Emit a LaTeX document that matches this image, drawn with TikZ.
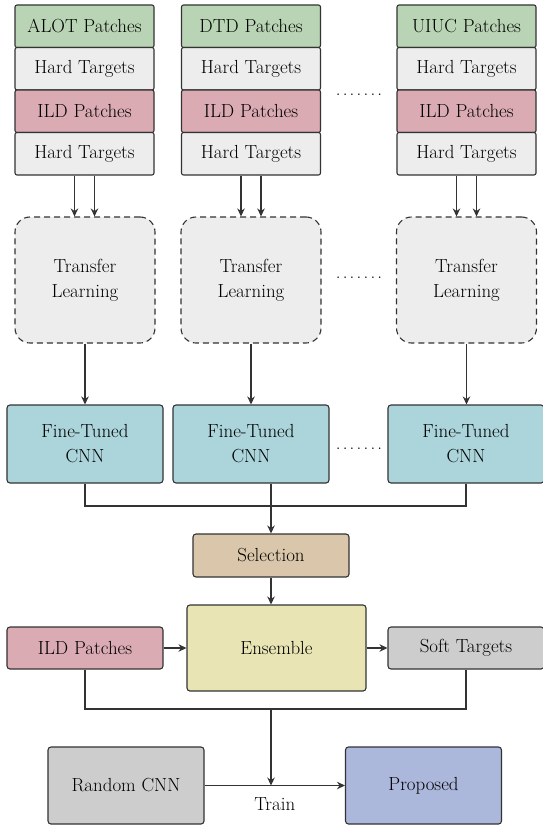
\documentclass[tikz,border=0pt]{standalone}
\usetikzlibrary{arrows.meta}
\definecolor{fcLine}{HTML}{333333}
\definecolor{fcGreen}{HTML}{B9D4B4}
\definecolor{fcPink}{HTML}{DBABB3}
\definecolor{fcLight}{HTML}{EDEDED}
\definecolor{fcTeal}{HTML}{ABD4DB}
\definecolor{fcTan}{HTML}{DAC7AB}
\definecolor{fcYellow}{HTML}{E8E4B3}
\definecolor{fcGray}{HTML}{CDCDCD}
\definecolor{fcBlue}{HTML}{ABB7DB}
\newcommand{\skipdots}{.\kern2.2bp.\kern2.2bp.\kern2.2bp.\kern2.2bp.\kern2.2bp.\kern2.2bp.}

\begin{document}
\begin{tikzpicture}[x=1bp, y=-1bp,
  box/.style={draw=fcLine, line width=1.1bp, rounded corners=3bp, align=center,
    inner sep=0pt, text=black, font=\fontsize{19}{25}\selectfont},
  patch/.style={box, minimum width=139bp, minimum height=42.5bp, rounded corners=2bp},
  tlbox/.style={box, dash pattern=on 6bp off 4bp, fill=fcLight,
    minimum width=140bp, minimum height=126bp, rounded corners=15bp},
  ftbox/.style={box, fill=fcTeal, minimum width=156bp, minimum height=78bp},
  dotrow/.style={font=\fontsize{19}{25}\selectfont, text=black, inner sep=0pt},
  arr/.style={-{Stealth[length=8bp, width=7.5bp]}, line width=1.1bp, draw=fcLine},
  ln/.style={line width=1.1bp, draw=fcLine}
]
  \useasboundingbox (0,0) rectangle (543,825);

  % patch stacks
  \node[patch, fill=fcGreen] (alot)    at (84.5,26.25)  {ALOT Patches};
  \node[patch, fill=fcLight] (alotht)  at (84.5,68.75)  {Hard Targets};
  \node[patch, fill=fcPink]  (alotild) at (84.5,111.25) {ILD Patches};
  \node[patch, fill=fcLight] (alotild ht) at (84.5,153.75) {Hard Targets};

  \node[patch, fill=fcGreen] (dtd)    at (251,26.25)  {DTD Patches};
  \node[patch, fill=fcLight] (dtdht)  at (251,68.75)  {Hard Targets};
  \node[patch, fill=fcPink]  (dtdild) at (251,111.25) {ILD Patches};
  \node[patch, fill=fcLight] (dtdild ht) at (251,153.75) {Hard Targets};

  \node[patch, fill=fcGreen] (uiuc)    at (466.5,26.25)  {UIUC Patches};
  \node[patch, fill=fcLight] (uiucht)  at (466.5,68.75)  {Hard Targets};
  \node[patch, fill=fcPink]  (uiucild) at (466.5,111.25) {ILD Patches};
  \node[patch, fill=fcLight] (uiucild ht) at (466.5,153.75) {Hard Targets};

  \node[dotrow] (dots1) at (359,95) {\skipdots};

  % transfer learning
  \node[tlbox] (tl1) at (85,280)    {Transfer\\Learning};
  \node[tlbox] (tl2) at (251,280)   {Transfer\\Learning};
  \node[tlbox] (tl3) at (466.5,280) {Transfer\\Learning};
  \node[dotrow] (dots2) at (359,278) {\skipdots};

  \foreach \src/\dst in {alotild ht/tl1, dtdild ht/tl2, uiucild ht/tl3} {
    \draw[arr] ([xshift=-10bp]\src.south) -- ([xshift=-10bp]\src.south |- \dst.north);
    \draw[arr] ([xshift=10bp]\src.south) -- ([xshift=10bp]\src.south |- \dst.north);
  }

  % fine-tuned networks
  \node[ftbox] (ft1) at (85,444)  {Fine-Tuned\\CNN};
  \node[ftbox] (ft2) at (251,444) {Fine-Tuned\\CNN};
  \node[ftbox] (ft3) at (466,444) {Fine-Tuned\\CNN};
  \node[dotrow] (dots3) at (359,449) {\skipdots};

  \draw[arr] (tl1.south) -- (tl1.south |- ft1.north);
  \draw[arr] (tl2.south) -- (tl2.south |- ft2.north);
  \draw[arr] (tl3.south) -- (tl3.south |- ft3.north);

  % selection and ensemble
  \node[box, fill=fcTan, minimum width=156bp, minimum height=43bp] (sel) at (271,555.5) {Selection};
  \node[box, fill=fcYellow, minimum width=179bp, minimum height=86bp] (ens) at (276.5,648) {Ensemble};
  \node[box, fill=fcPink, minimum width=156bp, minimum height=42bp] (ild) at (85,648) {ILD Patches};
  \node[box, fill=fcGray, minimum width=156bp, minimum height=42bp] (soft) at (466,648) {Soft Targets};

  \coordinate (join) at (271,506);
  \draw[ln] (ft1.south) |- (join) -| (ft3.south);
  \draw[arr] (ft2.south -| join) -- (sel.north);
  \draw[arr] (sel.south) -- (sel.south |- ens.north);
  \draw[arr] (ild) -- (ens);
  \draw[arr] (ens) -- (soft);

  % student training
  \node[box, fill=fcGray, minimum width=156bp, minimum height=77bp] (rand) at (126,785.5) {Random CNN};
  \node[box, fill=fcBlue, minimum width=156bp, minimum height=77bp] (prop) at (423.5,785.5) {Proposed};

  \coordinate (merge) at (271,709);
  \draw[ln] (ild.south) |- (merge) -| (soft.south);
  \draw[arr] (rand) -- node[below=12bp, font=\fontsize{19}{25}\selectfont, text=black, inner sep=0pt] (train) {Train} (prop);
  \draw[arr] (merge) -- (merge |- rand.east);
\end{tikzpicture}
\end{document}
